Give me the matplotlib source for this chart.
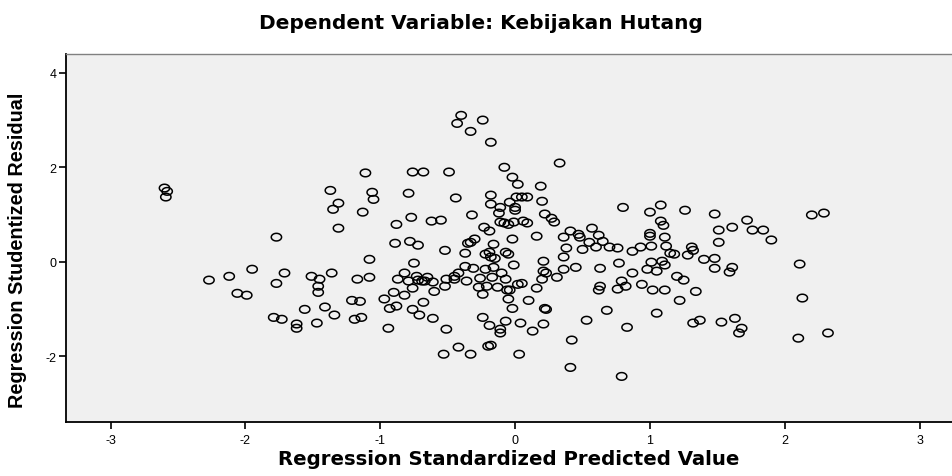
import numpy as np
import matplotlib
matplotlib.use("Agg")
import matplotlib.pyplot as plt
from matplotlib.path import Path

plt.rcParams["font.family"] = ["Liberation Sans", "DejaVu Sans"]
plt.rcParams["axes.unicode_minus"] = False

# standardized predicted value / studentized residual
pred_left = [
    -2.60, -2.58, -2.59, -2.27, -2.12, -1.95, -2.06, -1.99,
    -1.11, -1.37, -1.06, -1.05, -1.31, -1.35, -1.13, -1.31, -1.77, -1.71,
    -1.77, -1.51, -1.45, -1.36, -1.46, -1.46, -1.08, -1.17, -1.08, -1.21,
    -1.15, -1.56, -1.41, -1.34, -1.79, -1.73, -1.62, -1.62, -1.47, -1.19,
    -1.14,
]
resid_left = [
    1.56, 1.49, 1.37, -0.39, -0.31, -0.16, -0.67, -0.71,
    1.88, 1.51, 1.47, 1.32, 1.24, 1.11, 1.05, 0.71, 0.52, -0.24,
    -0.46, -0.31, -0.37, -0.24, -0.52, -0.65, 0.05, -0.37, -0.33, -0.82,
    -0.84, -1.01, -0.96, -1.13, -1.18, -1.22, -1.32, -1.41, -1.30, -1.22,
    -1.18,
]

pred_mid = [
    -0.40, -0.43, -0.24, -0.33, -0.18, -0.76, -0.68, -0.49, -0.79, -0.44,
    -0.18, -0.18, -0.32, -0.88, -0.77, -0.62, -0.55, -0.23, -0.19, -0.89,
    -0.78, -0.72, -0.52, -0.35, -0.33, -0.30, -0.37, -0.22, -0.75, -0.82,
    -0.87, -0.79, -0.73, -0.72, -0.69, -0.67, -0.65, -0.61, -0.51, -0.45,
    -0.42, -0.45, -0.37, -0.31, -0.36, -0.26, -0.22, -0.76, -0.60, -0.52,
    -0.27, -0.24, -0.21, -0.90, -0.82, -0.97, -0.93, -0.88, -0.76, -0.68,
    -0.71, -0.61, -0.24, -0.19, -0.94, -0.51, -0.42, -0.53, -0.33, -0.20,
    -0.18,
    0.33, -0.08, -0.02, 0.02, 0.19, -0.11, -0.04, 0.01, 0.05, 0.09,
    0.00, 0.00, -0.12, 0.20, 0.22, 0.27, 0.29, -0.11, -0.08, -0.05,
    -0.01, 0.06, 0.09, -0.02, 0.16, 0.41, 0.36, 0.47, 0.48, 0.57,
    0.62, 0.55, 0.60, 0.50, 0.38, -0.16, -0.07, -0.05, -0.19, -0.18,
    -0.15, 0.36, 0.21, -0.01, -0.16, 0.45, 0.63, 0.36, 0.21, 0.23,
    -0.10, -0.07, -0.17, 0.31, 0.20, 0.02, 0.05, -0.13, 0.16, -0.06,
    -0.04, 0.63, 0.62, -0.05, 0.10, -0.02, 0.22, 0.23, 0.68, -0.07,
    0.04, 0.21, 0.53, -0.11, -0.11, 0.13, 0.42, 0.03, 0.41,
]
resid_mid = [
    3.10, 2.93, 3.00, 2.76, 2.53, 1.90, 1.90, 1.90, 1.45, 1.35,
    1.41, 1.22, 0.99, 0.79, 0.94, 0.86, 0.88, 0.73, 0.65, 0.39,
    0.43, 0.35, 0.24, 0.39, 0.41, 0.48, 0.18, 0.16, -0.03, -0.24,
    -0.37, -0.41, -0.31, -0.39, -0.41, -0.41, -0.33, -0.43, -0.37, -0.31,
    -0.24, -0.37, -0.10, -0.14, -0.41, -0.35, -0.16, -0.56, -0.63, -0.52,
    -0.54, -0.69, -0.52, -0.65, -0.71, -0.79, -0.99, -0.94, -1.01, -0.86,
    -1.13, -1.20, -1.18, -1.35, -1.41, -1.43, -1.81, -1.96, -1.96, -1.79,
    -1.77,
    2.09, 2.00, 1.79, 1.64, 1.60, 1.15, 1.26, 1.37, 1.37, 1.37,
    1.15, 1.09, 1.03, 1.28, 1.01, 0.92, 0.84, 0.84, 0.82, 0.79,
    0.84, 0.86, 0.82, 0.48, 0.54, 0.65, 0.52, 0.58, 0.52, 0.71,
    0.56, 0.41, 0.31, 0.26, 0.29, 0.37, 0.20, 0.16, 0.20, 0.10,
    0.07, 0.10, 0.01, -0.07, -0.12, -0.12, -0.14, -0.16, -0.20, -0.24,
    -0.24, -0.37, -0.33, -0.33, -0.37, -0.48, -0.46, -0.54, -0.56, -0.60,
    -0.60, -0.52, -0.60, -0.79, -0.82, -0.99, -0.99, -1.01, -1.03, -1.26,
    -1.30, -1.32, -1.24, -1.43, -1.51, -1.47, -1.66, -1.96, -2.24,
]

pred_right = [
    0.80, 1.08, 1.00, 1.26, 1.48, 1.08, 1.10, 1.51, 0.65, 1.00,
    1.00, 1.11, 1.51, 0.70, 0.76, 0.87, 0.93, 1.01, 1.12, 1.15,
    1.18, 1.28, 1.31, 1.32, 1.40, 1.48, 1.48, 0.77, 1.01, 1.09,
    1.11, 0.98, 1.05, 0.87, 1.20, 1.25, 0.79, 0.82, 0.76, 0.94,
    1.02, 1.11, 1.34, 1.22, 1.05, 0.83, 1.32, 1.37, 1.53, 0.79,
    1.72, 1.61, 1.76, 1.84, 1.90, 2.20, 2.29, 1.61, 1.59, 2.11,
    2.13, 1.63, 1.68, 1.66, 2.10, 2.32,
]
resid_right = [
    1.15, 1.20, 1.05, 1.09, 1.01, 0.86, 0.77, 0.67, 0.43, 0.60,
    0.54, 0.52, 0.41, 0.31, 0.29, 0.22, 0.31, 0.33, 0.33, 0.18,
    0.16, 0.14, 0.31, 0.24, 0.05, 0.07, -0.14, -0.03, -0.01, 0.01,
    -0.07, -0.16, -0.20, -0.24, -0.31, -0.39, -0.41, -0.52, -0.58, -0.48,
    -0.60, -0.60, -0.63, -0.82, -1.09, -1.39, -1.30, -1.24, -1.28, -2.43,
    0.88, 0.73, 0.67, 0.67, 0.46, 0.99, 1.03, -0.12, -0.22, -0.05,
    -0.77, -1.20, -1.41, -1.51, -1.62, -1.51,
]

pred = np.array(pred_left + pred_mid + pred_right)
resid = np.array(resid_left + resid_mid + resid_right)

# slightly flattened open circle, like the SPSS marker
t = np.linspace(0, 2 * np.pi, 60)
ellipse = Path(np.column_stack([np.cos(t), 0.74 * np.sin(t)]), closed=True)

fig = plt.figure(figsize=(9.53, 4.77), dpi=100)
ax = fig.add_axes([0.0693, 0.1138, 0.9297, 0.7709])
ax.set_facecolor("#f0f0f0")

ax.scatter(pred, resid, s=55, marker=ellipse, facecolors="none",
           edgecolors="black", linewidths=1.1)

ax.set_xlim(-3.33, 3.24)
ax.set_ylim(-3.39, 4.40)
ax.set_xticks([-3, -2, -1, 0, 1, 2, 3])
ax.set_yticks([-2, 0, 2, 4])
ax.tick_params(axis="both", direction="out", length=5, width=1.2,
               labelsize=9, color="black")
ax.tick_params(axis="x", pad=4)
ax.tick_params(axis="y", pad=2)

for side in ("left", "bottom"):
    ax.spines[side].set_linewidth(1.3)
    ax.spines[side].set_color("black")
ax.spines["top"].set_color("#808080")
ax.spines["top"].set_linewidth(1.0)
ax.spines["right"].set_visible(False)

ax.set_xlabel("Regression Standardized Predicted Value", fontsize=14.2,
              fontweight="bold", family=["DejaVu Sans"], labelpad=2)
ax.set_ylabel("Regression Studentized Residual", fontsize=14.3,
              fontweight="bold")
ax.yaxis.set_label_coords(-0.044, 0.47)
fig.suptitle("Dependent Variable: Kebijakan Hutang", fontsize=14.5,
             fontweight="bold", family=["DejaVu Sans"], y=0.97, x=0.505)

fig.savefig("out.png", dpi=100)
